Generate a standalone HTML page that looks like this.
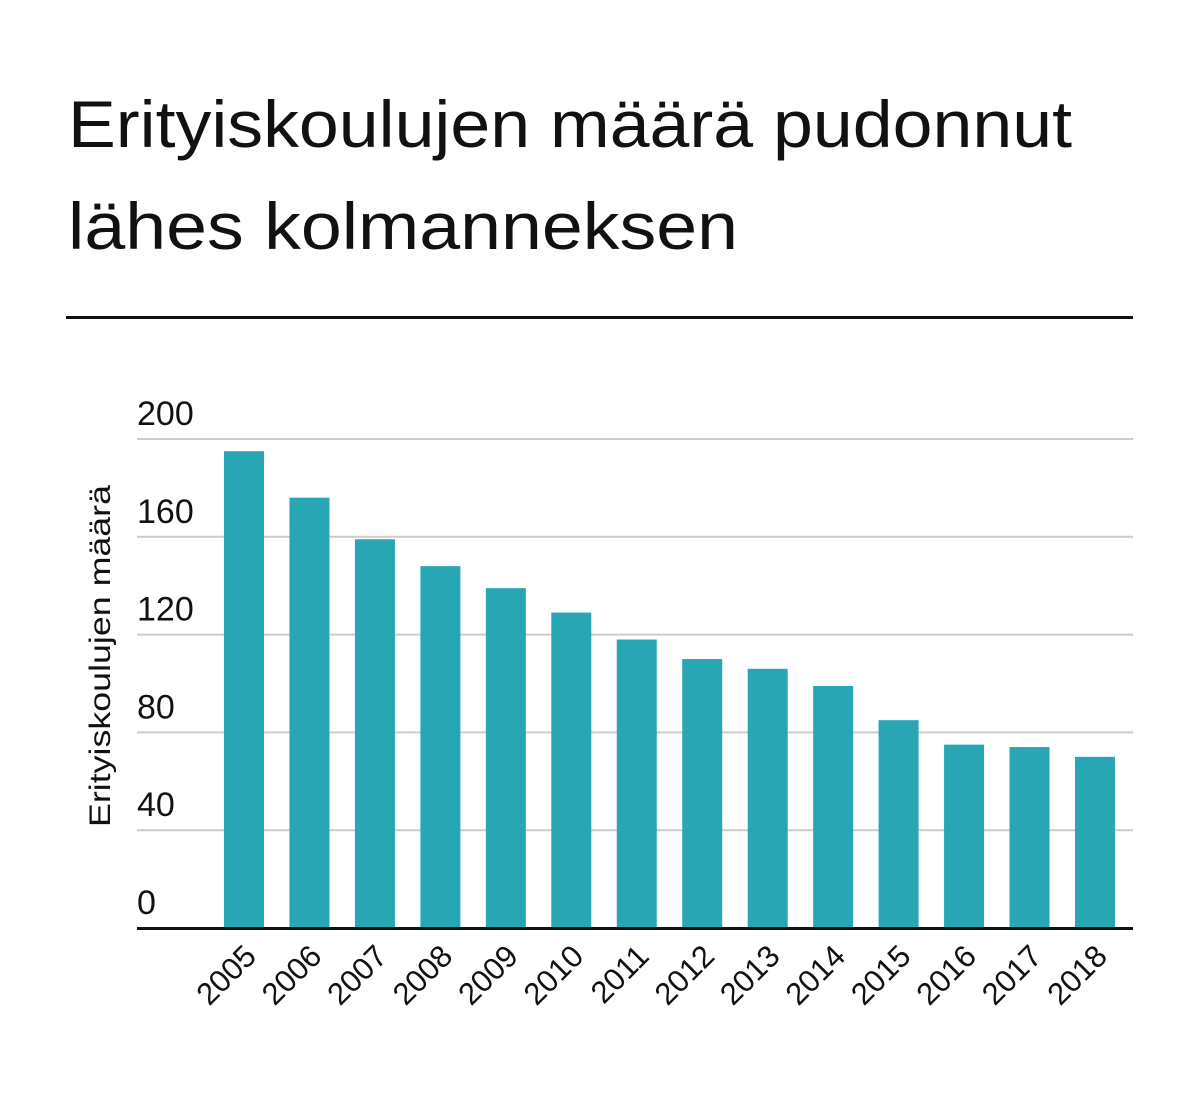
<!DOCTYPE html>
<html><head><meta charset="utf-8"><style>
html,body{margin:0;padding:0;background:#fff;}
svg{display:block;font-family:"Liberation Sans",sans-serif;}
</style></head><body>
<svg id="chart" width="1199" height="1108" viewBox="0 0 1199 1108" xmlns="http://www.w3.org/2000/svg">
<text x="68" y="147" font-size="66" fill="#111" textLength="1004" lengthAdjust="spacingAndGlyphs">Erityiskoulujen määrä pudonnut</text>
<text x="68" y="249" font-size="66" fill="#111" textLength="670" lengthAdjust="spacingAndGlyphs">lähes kolmanneksen</text>
<rect x="66" y="316" width="1067" height="3" fill="#111"/>
<g id="grid"></g>
<g id="bars"></g>
<g id="xlabels"></g>
<text transform="translate(110,656) rotate(-90)" text-anchor="middle" font-size="30" fill="#111" textLength="342" lengthAdjust="spacingAndGlyphs">Erityiskoulujen määrä</text>
<rect x="137" y="927" width="996" height="3" fill="#111"/>
</svg>
<script>
const categories = ["2005","2006","2007","2008","2009","2010","2011","2012","2013","2014","2015","2016","2017","2018"];
const values = [195,176,159,148,139,129,118,110,106,99,85,75,74,70];
const yTicks = [0,40,80,120,160,200];
const NS = "http://www.w3.org/2000/svg";
const y0 = 928, yTop = 439, yMax = 200;
function yScale(v){ return y0 - (v / yMax) * (y0 - yTop); }
const firstX = 224, step = 65.46, barW = 40;
function xScale(i){ return firstX + i * step; }
const grid = document.getElementById('grid');
yTicks.forEach(t => {
  const y = yScale(t);
  if (t > 0) {
    const l = document.createElementNS(NS,'line');
    
    
    l.setAttribute('x1',137); l.setAttribute('x2',1133);
    l.setAttribute('y1',y); l.setAttribute('y2',y);
    l.setAttribute('stroke','#cccccc'); l.setAttribute('stroke-width','2');
    grid.appendChild(l);
  }
  const tx = document.createElementNS(NS,'text');
  
  
  tx.setAttribute('x',137); tx.setAttribute('y',y - 14);
  tx.setAttribute('font-size','34'); tx.setAttribute('fill','#111');
  tx.textContent = t;
  grid.appendChild(tx);
});
const bars = document.getElementById('bars');
const xl = document.getElementById('xlabels');
categories.forEach((c,i) => {
  const x = xScale(i), y = yScale(values[i]);
  const r = document.createElementNS(NS,'rect');
  
  
  r.setAttribute('x',x); r.setAttribute('y',y);
  r.setAttribute('width',barW); r.setAttribute('height',y0 - y);
  r.setAttribute('fill','#29a6b4');
  bars.appendChild(r);
  const t = document.createElementNS(NS,'text');
  
  
  const ax = x + barW/2 + 14, ay = 958;
  t.setAttribute('x',ax); t.setAttribute('y',ay);
  t.setAttribute('text-anchor','end');
  t.setAttribute('font-size','31'); t.setAttribute('fill','#111');
  t.setAttribute('transform','rotate(-45 '+ax+' '+ay+')');
  t.textContent = c;
  xl.appendChild(t);
});
</script>
</body></html>
